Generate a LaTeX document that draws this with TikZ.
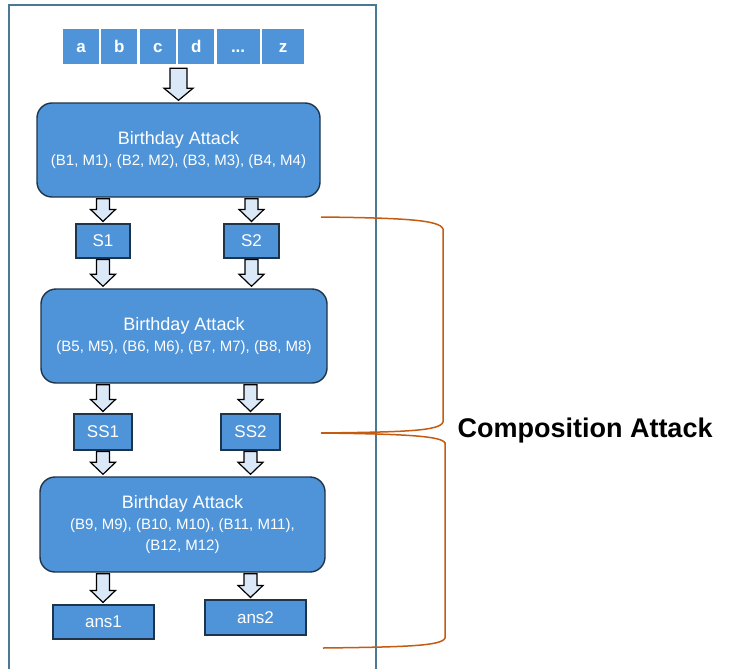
\documentclass[tikz,border=0pt]{standalone}
\usepackage{fontspec}
\setmainfont{Liberation Sans}
\usepackage{xcolor}
\usepackage{tikz}
\usetikzlibrary{positioning, calc}
\definecolor{boxblue}{RGB}{79, 148, 216}
\definecolor{boxedge}{RGB}{30, 52, 74}
\definecolor{arrowfill}{RGB}{218, 232, 247}
\definecolor{framegray}{RGB}{72, 122, 150}
\definecolor{braceorange}{RGB}{197, 90, 17}

% block arrow from a start point down to an end point
\newcommand{\fatarrow}[3][6.5pt]{%
  \draw[fatarrow] let \p1=(#2), \p2=(#3), \n1={#1}, \n2={#1+6pt} in
    (\x1-\n1,\y1-1pt) -- (\x1+\n1,\y1-1pt) -- (\x1+\n1,\y2+14pt) --
    (\x1+\n2,\y2+14pt) -- (\x1,\y2+2pt) -- (\x1-\n2,\y2+14pt) --
    (\x1-\n1,\y2+14pt) -- cycle;}

\begin{document}
\begin{tikzpicture}[
    x=1pt, y=-1pt,
    letter/.style={rectangle, fill=boxblue, text=white, inner sep=0pt, text height=12pt, text depth=0pt,
                   minimum width=36pt, minimum height=35pt, font=\fontsize{17}{19}\selectfont\bfseries},
    attack/.style={rectangle, rounded corners=15pt, draw=boxedge, line width=1.4pt, fill=boxblue,
                   text=white, minimum height=94pt, align=center, font=\fontsize{15}{21}\selectfont},
    result/.style={rectangle, draw=boxedge, line width=1.1pt, fill=boxblue, text=white,
                   inner sep=0pt, minimum height=34pt, font=\fontsize{17}{19}\selectfont},
    fatarrow/.style={draw=black, line width=1.2pt, fill=arrowfill, line join=miter},
    brace/.style={draw=braceorange, line width=1.5pt}
]
    \useasboundingbox (0,0) rectangle (730,669);
    \draw[framegray, line width=1.5pt] (9,669) -- (9,5) -- (376,5) -- (376,669);

    % alphabet row
    \node[letter] (la) at (81,46.5) {a};
    \node[letter, right=2pt of la] (lb) {b};
    \node[letter, right=2pt of lb] (lc) {c};
    \node[letter, right=2pt of lc] (ld) {d};
    \node[letter, right=2pt of ld, minimum width=43pt] (ldots) {...};
    \node[letter, right=2pt of ldots, minimum width=42pt] (lz) {z};

    % attack stages
    \node[attack, minimum width=283pt] (b1) at (178.5,150)
        {{\fontsize{18}{21}\selectfont Birthday Attack}\\(B1, M1), (B2, M2), (B3, M3), (B4, M4)};
    \node[result, minimum width=54pt] (s1) at (103,241) {S1};
    \node[result, minimum width=55pt] (s2) at (251.5,241) {S2};
    \node[attack, minimum width=286pt] (b2) at (184,336)
        {{\fontsize{18}{21}\selectfont Birthday Attack}\\(B5, M5), (B6, M6), (B7, M7), (B8, M8)};
    \node[result, minimum width=58pt, minimum height=36pt] (ss1) at (103,432) {SS1};
    \node[result, minimum width=59pt, minimum height=36pt] (ss2) at (250.5,432) {SS2};
    \node[attack, minimum width=285pt, minimum height=95pt] (b3) at (182.5,524.5)
        {{\fontsize{18}{21}\selectfont Birthday Attack}\\(B9, M9), (B10, M10), (B11, M11),\\(B12, M12)};
    \node[result, minimum width=101pt] (ans1) at (103.5,622) {ans1};
    \node[result, minimum width=101pt, minimum height=35pt] (ans2) at (255.5,617.5) {ans2};

    % block arrows
    \fatarrow[8.5pt]{$(ld.south -| b1.north)+(0,3)$}{b1.north};
    \fatarrow{b1.south -| s1.north}{s1.north};
    \fatarrow{b1.south -| s2.north}{s2.north};
    \fatarrow{s1.south}{b2.north -| s1.south};
    \fatarrow{s2.south}{b2.north -| s2.south};
    \fatarrow{b2.south -| ss1.north}{ss1.north};
    \fatarrow{b2.south -| ss2.north}{ss2.north};
    \fatarrow{ss1.south}{b3.north -| ss1.south};
    \fatarrow{ss2.south}{b3.north -| ss2.south};
    \fatarrow{b3.south -| ss1.north}{ans1.north -| ss1.north};
    \fatarrow{b3.south -| ss2.north}{ans2.north -| ss2.north};

    % braces
    \coordinate (braceA) at (321,217);
    \coordinate (braceB) at (321,433);
    \coordinate (braceC) at (323,648);
    \draw[brace] (braceA) .. controls (405,218) and (440,220) .. (443,229) -- (443,422)
        .. controls (440,431) and (405,432) .. (braceB);
    \draw[brace] (braceB) .. controls (405,434) and (442,436) .. (445,443) -- (445,638)
        .. controls (442,646) and (405,647) .. (braceC);
    \node[font=\fontsize{27}{30}\selectfont\bfseries, anchor=west] (comp) at (454,431) {Composition Attack};
\end{tikzpicture}
\end{document}
